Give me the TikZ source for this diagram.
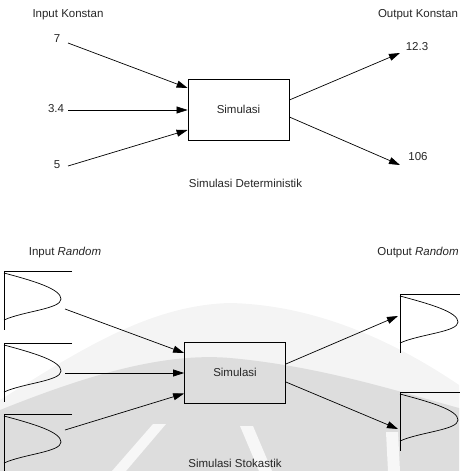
\documentclass[tikz,border=0pt]{standalone}
\usepackage{fontspec}
\setmainfont{Liberation Sans}
\usetikzlibrary{arrows.meta}
\definecolor{inkgray}{HTML}{262626}
\definecolor{markdark}{HTML}{DDDDDD}
\definecolor{marklight}{HTML}{F4F4F4}
\definecolor{markgap}{HTML}{F7F7F7}
\begin{document}
\begin{tikzpicture}[x=1pt,y=-1pt,
  lbl/.style={font=\fontsize{11.5}{13}\selectfont, text=inkgray, inner sep=0pt},
  simbox/.style={draw, line width=0.8pt, minimum width=101pt, minimum height=61pt,
    inner sep=0pt, font=\fontsize{11.5}{13}\selectfont, text=inkgray},
  flow/.style={-{Triangle[length=11pt,width=7pt]}, line width=0.7pt},
  inbell/.pic={
    \draw[line width=0.7pt] (68,0) -- (0,0) -- (0,59);
    \draw[line width=0.7pt] (0,2) .. controls (30,10) and (57,18) .. (57,28)
      .. controls (57,38) and (20,40) .. (0,49);
  },
  outbell/.pic={
    \draw[line width=0.7pt] (60,0) -- (0,0) -- (0,59);
    \draw[line width=0.7pt] (0,2) .. controls (30,10) and (58,18) .. (58,28)
      .. controls (58,38) and (20,40) .. (0,49);
  }
]
\useasboundingbox (0,0) rectangle (459,471);

% faint background emblem
\fill[marklight] (0,400) .. controls (80,350) and (150,305) .. (230,303)
  .. controls (320,305) and (400,345) .. (459,385) -- (459,471) -- (0,471) -- cycle;
\fill[markdark] (0,410) .. controls (80,378) and (160,352) .. (230,358)
  .. controls (320,366) and (400,392) .. (459,408) -- (459,471) -- (0,471) -- cycle;
\fill[markgap] (112,471) -- (153,424) -- (166,424) -- (126,471) -- cycle;
\fill[markgap] (240,426) -- (253,426) -- (272,471) -- (259,471) -- cycle;
\fill[markgap] (386,432) -- (398,432) -- (400,471) -- (388,471) -- cycle;

% ---------- deterministic simulation ----------
\node[lbl] (inK) at (68,15) {Input Konstan};
\node[lbl] (outK) at (418,15) {Output Konstan};

\node[lbl] (v7) at (57,39) {7};
\node[lbl] (v34) at (56,109) {3.4};
\node[lbl] (v5) at (57,165) {5};
\coordinate (t7) at (68,43);
\coordinate (t34) at (68,110);
\coordinate (t5) at (68,166);

\node[simbox] (simA) at (238.5,109.5) {Simulasi};

\draw[flow] (t7) -- ([yshift=21.5pt]simA.west);
\draw[flow] (t34) -- ([yshift=-0.5pt]simA.west);
\draw[flow] (t5) -- ([yshift=-20.5pt]simA.west);

\node[lbl] (v123) at (417,47) {12.3};
\node[lbl] (v106) at (418,157) {106};
\coordinate (h123) at (400,53);
\coordinate (h106) at (400,165);
\draw[flow] ([yshift=9.5pt]simA.east) -- (h123);
\draw[flow] ([yshift=-7.5pt]simA.east) -- (h106);

\node[lbl] (capA) at (245.5,183) {Simulasi Deterministik};

% ---------- stochastic simulation ----------
\node[lbl] (inR) at (65,253) {Input \textit{Random}};
\node[lbl] (outR) at (418,253) {Output \textit{Random}};

\pic at (4,271) {inbell};
\pic at (4,343) {inbell};
\pic at (4,414) {inbell};
\coordinate (r1) at (65,309);
\coordinate (r2) at (65,373);
\coordinate (r3) at (65,430);

\node[simbox] (simB) at (235,372.5) {Simulasi};

\draw[flow] (r1) -- ([yshift=19.5pt]simB.west);
\draw[flow] (r2) -- ([yshift=-0.5pt]simB.west);
\draw[flow] (r3) -- ([yshift=-21pt]simB.west);

\pic at (400,294) {outbell};
\pic at (400,392) {outbell};
\coordinate (o1) at (398,316);
\coordinate (o2) at (398,429);
\draw[flow] ([yshift=8.5pt]simB.east) -- (o1);
\draw[flow] ([yshift=-9.5pt]simB.east) -- (o2);

\node[lbl] (capB) at (235,463) {Simulasi Stokastik};
\end{tikzpicture}
\end{document}
